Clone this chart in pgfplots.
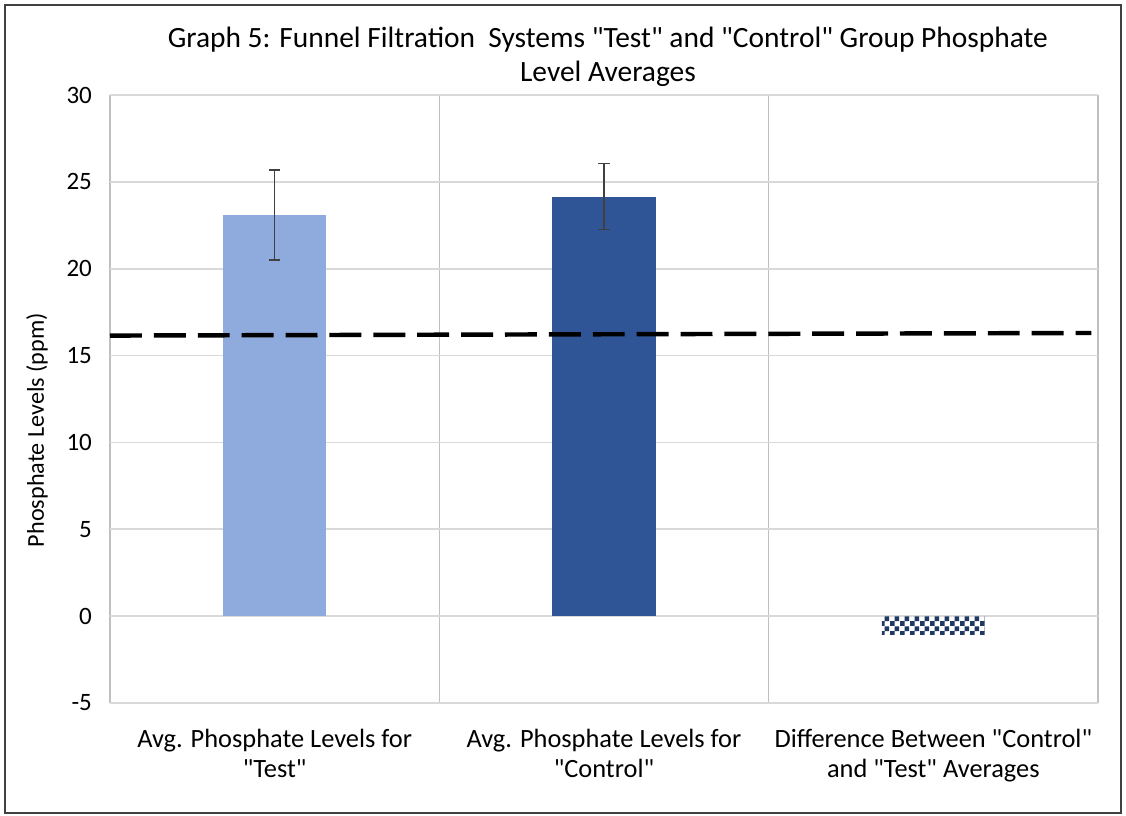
\documentclass[border=0pt]{standalone}
\usepackage{pgfplots}
\pgfplotsset{compat=1.18}
\usepackage{fontspec}
\setmainfont{Carlito}[Ligatures=TeXOff]
\usetikzlibrary{patterns}
\pgfdeclarepatternformonly{smallcheck}{\pgfpointorigin}{\pgfqpoint{3.6pt}{3.6pt}}{\pgfqpoint{3.6pt}{3.6pt}}{%
 \pgfpathrectangle{\pgfpointorigin}{\pgfqpoint{1.8pt}{1.8pt}}%
 \pgfpathrectangle{\pgfqpoint{1.8pt}{1.8pt}}{\pgfqpoint{1.8pt}{1.8pt}}%
 \pgfusepath{fill}}
\definecolor{lightbar}{HTML}{8FAADC}
\definecolor{darkbar}{HTML}{2F5597}
\definecolor{checkc}{HTML}{1F3864}
\definecolor{gridc}{HTML}{D9D9D9}
\definecolor{vgridc}{HTML}{BFBFBF}
\begin{document}
\begin{tikzpicture}
\useasboundingbox (-39.6pt,-40.68pt) rectangle (365.76pt,253.08pt);
\fill[white] (-39.6pt,-40.68pt) rectangle (365.76pt,253.08pt);
\begin{axis}[
  at={(0,0)}, anchor=south west,
  scale only axis, width=355.68pt, height=218.88pt,
  xmin=-0.5, xmax=2.5, ymin=-5, ymax=30,
  ytick={-5,0,5,10,15,20,25,30},
  xtick={0,1,2},
  xticklabels={{Avg. Phosphate Levels for\\"Test"},{Avg. Phosphate Levels for\\"Control"},{Difference Between "Control"\\and "Test" Averages}},
  xticklabel style={align=center, font=\fontsize{9.5}{10.8}\selectfont, yshift=-6pt},
  yticklabel style={font=\fontsize{9}{10}\selectfont, xshift=-3pt},
  /pgf/number format/assume math mode=true,
  minor xtick={-0.5,0.5,1.5,2.5},
  xminorgrids, ymajorgrids,
  major grid style={gridc, line width=0.6pt},
  minor grid style={vgridc, line width=0.5pt},
  axis line style={draw=none},
  major tick length=0pt, minor tick length=0pt,
  ylabel={Phosphate Levels (ppm)},
  ylabel style={font=\fontsize{8.7}{10}\selectfont, at={(axis description cs:-0.0739,0.449)}, anchor=center, rotate=0},
  ybar, bar width=0.313,
  clip=false,
]
\addplot[fill=lightbar, draw=none, bar shift=0pt,
  error bars/.cd, y dir=both, y explicit,
  error bar style={color=black!75, line width=0.5pt},
  error mark options={rotate=90, mark size=2pt, line width=0.5pt, color=black!75}]
  coordinates {(0,23.09) +- (0,2.59)};
\addplot[fill=darkbar, draw=none, bar shift=0pt,
  error bars/.cd, y dir=both, y explicit,
  error bar style={color=black!75, line width=0.5pt},
  error mark options={rotate=90, mark size=2pt, line width=0.5pt, color=black!75}]
  coordinates {(1,24.15) +- (0,1.9)};
\addplot[pattern=smallcheck, pattern color=checkc, draw=none, bar shift=0pt]
  coordinates {(2,-1.03)};
\addplot[sharp plot, black, line width=1.6pt, dash pattern=on 11.5pt off 4.3pt]
  coordinates {(-0.5,16.15) (2.48,16.3)};
\node[align=center, font=\fontsize{10.6}{12.1}\selectfont] at (axis description cs:0.504,1.0625)
  {Graph 5: Funnel Filtration~ Systems "Test" and "Control" Group Phosphate\\Level Averages};
\end{axis}
\draw[line width=0.9pt, color=black!75] (-37.8pt,-39.6pt) rectangle (363.96pt,251.28pt);
\end{tikzpicture}
\end{document}
